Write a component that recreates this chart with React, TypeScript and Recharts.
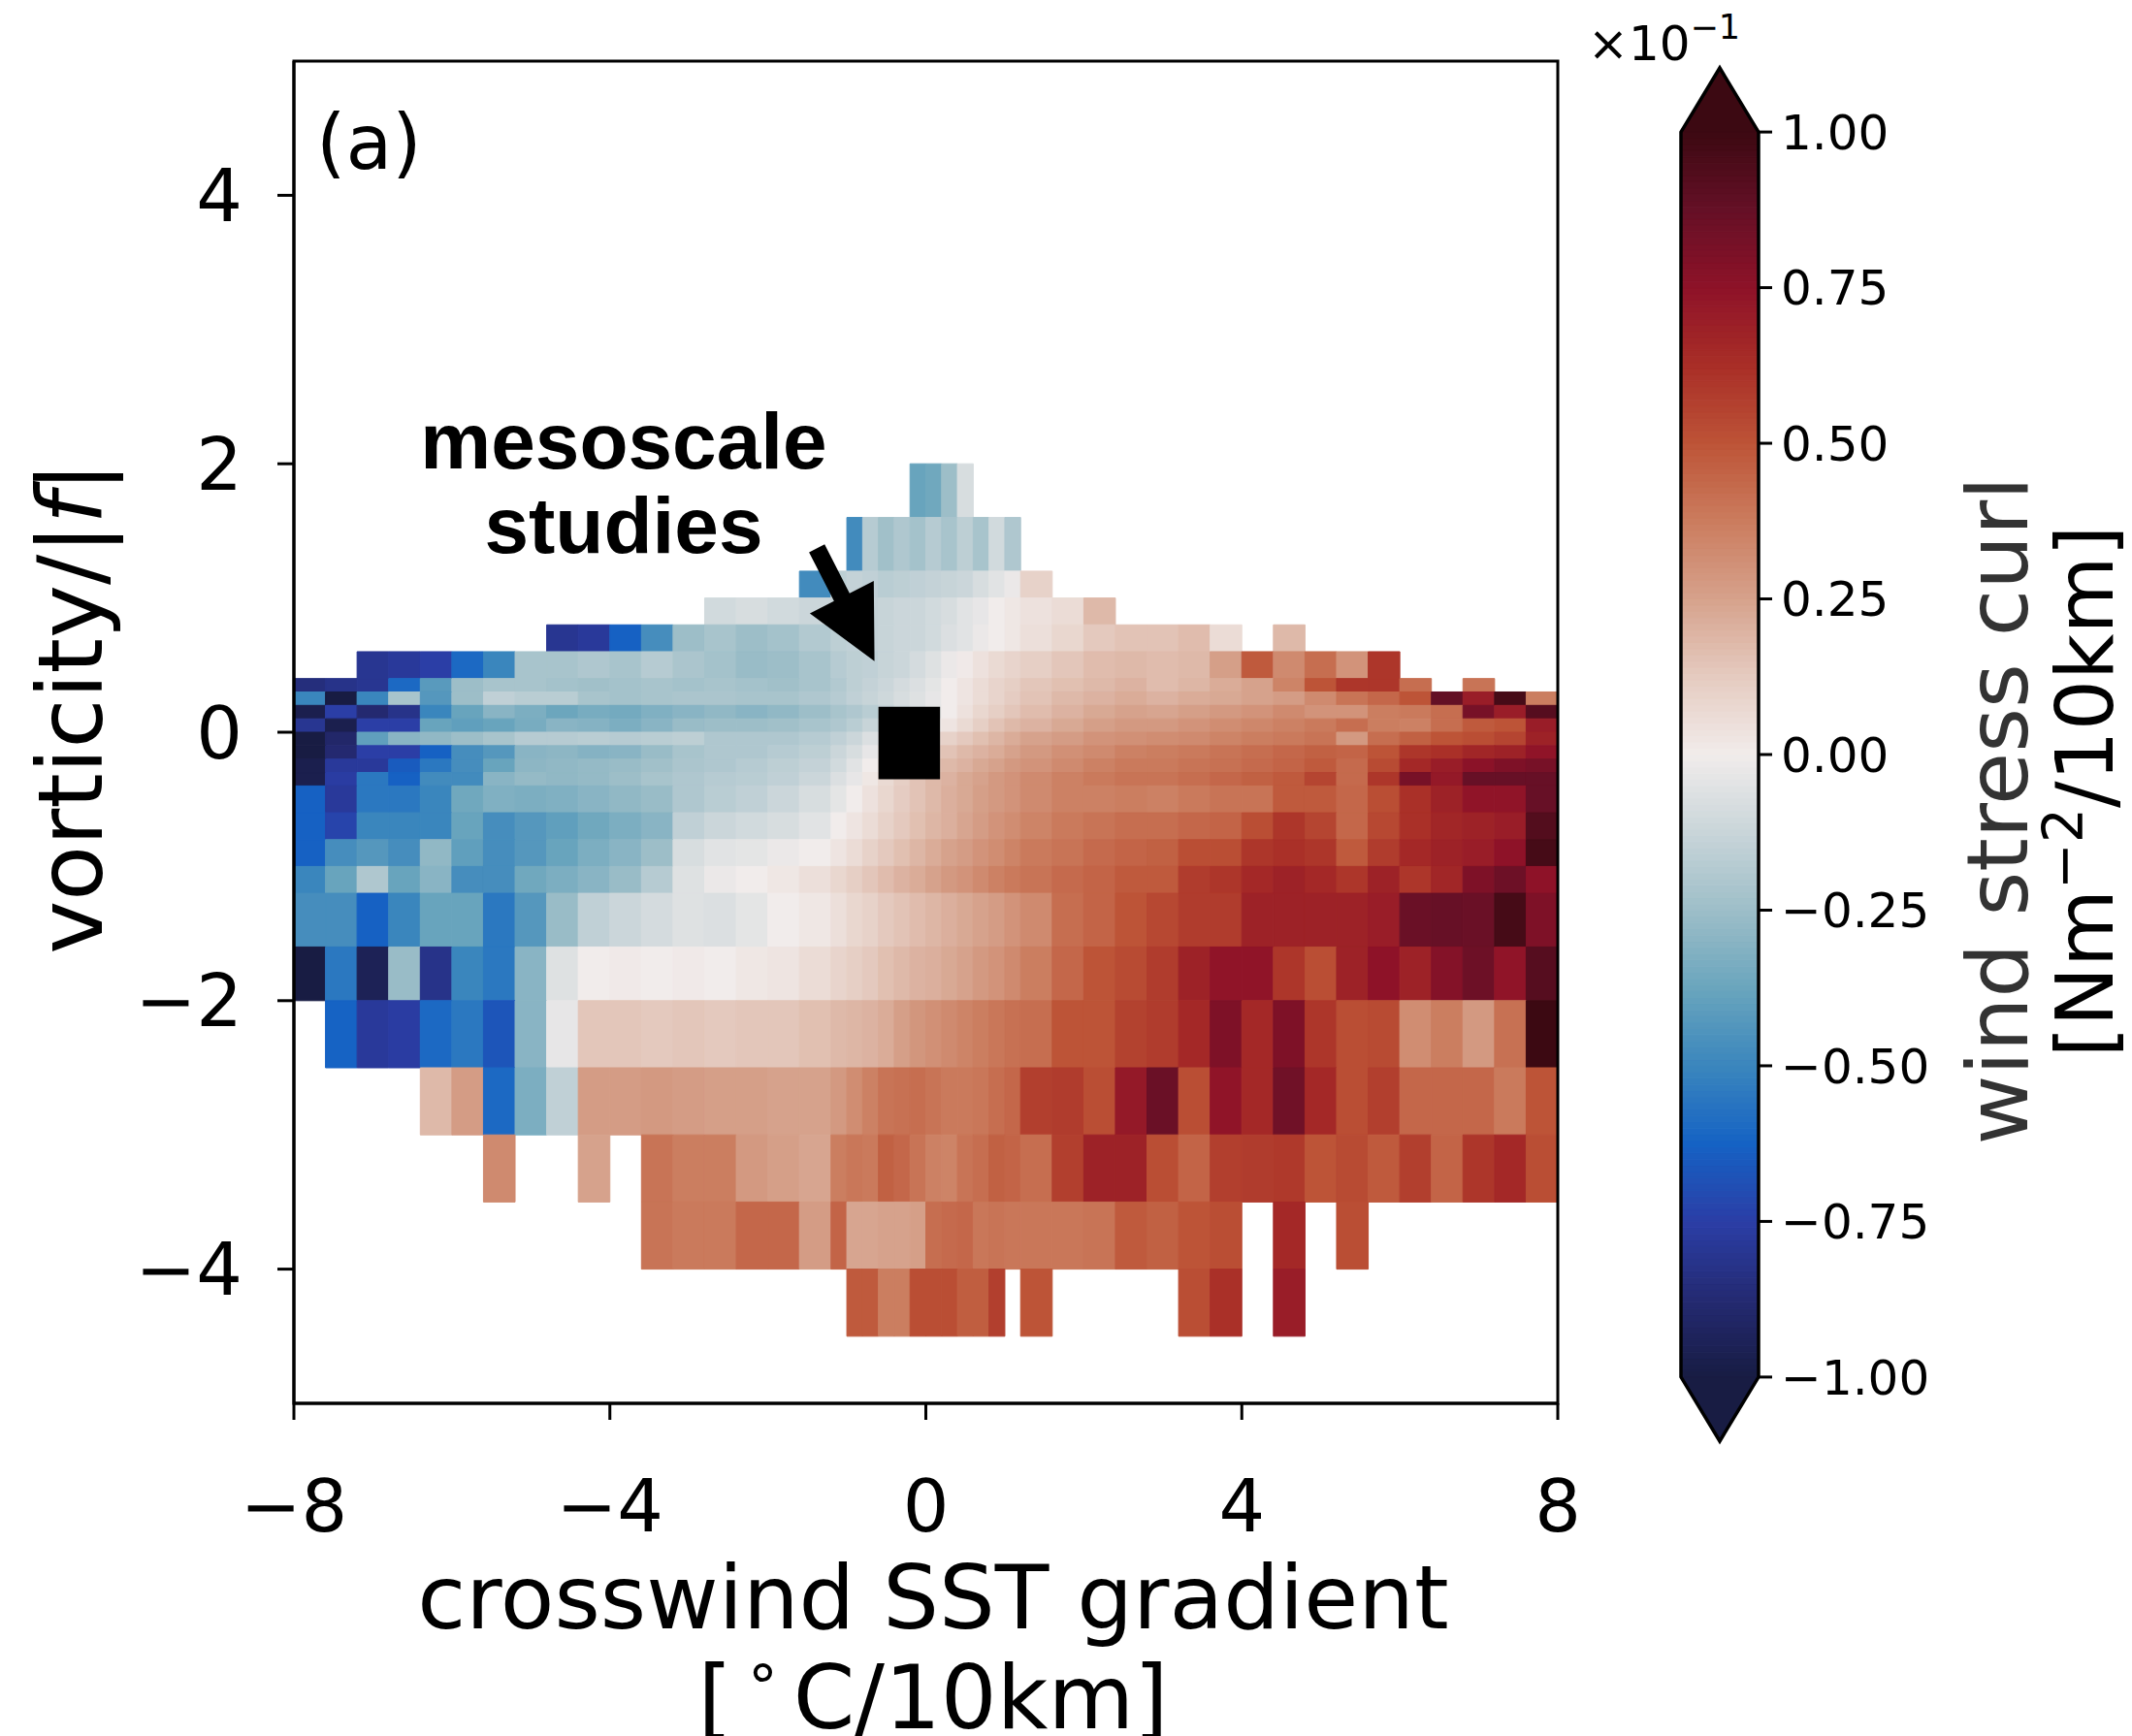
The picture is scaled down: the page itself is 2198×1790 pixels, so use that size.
import React from 'react';
import { ComposedChart, XAxis, YAxis, ReferenceArea, ReferenceLine } from 'recharts';

const N = null;

// bin edges (x: crosswind SST gradient, y: vorticity/|f|, top to bottom)
const xEdges = [-8, -7.6, -7.2, -6.8, -6.4, -6, -5.6, -5.2, -4.8, -4.4, -4, -3.6, -3.2, -2.8, -2.4, -2, -1.6, -1.2,
  -1, -0.8, -0.6, -0.4, -0.2, 0, 0.2, 0.4, 0.6, 0.8, 1, 1.2,
  1.6, 2, 2.4, 2.8, 3.2, 3.6, 4, 4.4, 4.8, 5.2, 5.6, 6, 6.4, 6.8, 7.2, 7.6, 8];
const yEdges = [2, 1.6, 1.2, 1, 0.8, 0.6, 0.4, 0.3, 0.2, 0.1, 0, -0.1, -0.2, -0.3, -0.4, -0.6, -0.8, -1, -1.2, -1.6, -2, -2.5, -3, -3.5, -4, -4.5];

// wind stress curl (x10^-1) per row, 46 columns each
const r0 = [N,N,N,N,N,N,N,N,N,N, N,N,N,N,N,N,N,N,N,N, N,N,-0.38,-0.36,-0.25,-0.08,N,N,N,N, N,N,N,N,N,N,N,N,N,N, N,N,N,N,N,N];
const r1 = [N,N,N,N,N,N,N,N,N,N, N,N,N,N,N,N,N,N,-0.48,-0.18, -0.24,-0.2,-0.23,-0.18,-0.22,-0.16,-0.22,-0.1,-0.2,N, N,N,N,N,N,N,N,N,N,N, N,N,N,N,N,N];
const r2 = [N,N,N,N,N,N,N,N,N,N, N,N,N,N,N,N,-0.48,-0.16,-0.14,-0.15, -0.17,-0.16,-0.15,-0.14,-0.13,-0.12,-0.08,-0.05,-0.02,0.1, N,N,N,N,N,N,N,N,N,N, N,N,N,N,N,N];
const r3 = [N,N,N,N,N,N,N,N,N,N, N,N,N,-0.1,-0.08,-0.1,-0.12,-0.13,-0.14,-0.14, -0.13,-0.12,-0.12,-0.1,-0.08,-0.05,-0.03,0,0.02,0.04, 0.06,0.18,N,N,N,N,N,N,N,N, N,N,N,N,N,N];
const r4 = [N,N,N,N,N,N,N,N,-0.8,-0.78, -0.63,-0.47,-0.25,-0.22,-0.25,-0.23,-0.19,-0.16,-0.15,-0.14, -0.13,-0.12,-0.12,-0.1,-0.07,-0.05,-0.02,0,0.02,0.05, 0.08,0.13,0.15,0.15,0.17,0.06,N,0.18,N,N, N,N,N,N,N,N];
const r5 = [N,N,-0.8,-0.78,-0.75,-0.6,-0.5,-0.22,-0.22,-0.2, -0.22,-0.18,-0.21,-0.23,-0.26,-0.25,-0.22,-0.18,-0.16,-0.15, -0.13,-0.12,-0.09,-0.06,-0.02,0.01,0.04,0.07,0.09,0.11, 0.14,0.17,0.18,0.17,0.18,0.26,0.48,0.33,0.42,0.3, 0.6,N,N,N,N,N];
const r6 = [-0.85,-0.82,-0.8,-0.6,-0.42,-0.25,-0.22,-0.22,-0.23,-0.24, -0.23,-0.22,-0.23,-0.22,-0.23,-0.24,-0.22,-0.19,-0.16,-0.14, -0.12,-0.09,-0.07,-0.04,0,0.03,0.06,0.09,0.11,0.14, 0.16,0.18,0.2,0.17,0.19,0.22,0.25,0.35,0.5,0.6, 0.6,0.42,N,0.4,N,N];
const r7 = [-0.5,-1,-0.5,-0.22,-0.43,-0.25,-0.15,-0.17,-0.17,-0.22, -0.23,-0.22,-0.21,-0.21,-0.22,-0.22,-0.2,-0.18,-0.15,-0.13, -0.11,-0.08,-0.06,-0.03,0,0.03,0.06,0.09,0.12,0.15, 0.18,0.2,0.22,0.2,0.22,0.23,0.25,0.27,0.33,0.4, 0.44,0.5,0.88,0.7,0.97,0.37];
const r8 = [-0.97,-0.75,-0.88,-0.82,-0.5,-0.38,-0.3,-0.33,-0.37,-0.34, -0.35,-0.32,-0.3,-0.28,-0.3,-0.28,-0.25,-0.22,-0.2,-0.17, -0.14,-0.1,-0.07,-0.04,0,0.04,0.08,0.11,0.14,0.17, 0.2,0.23,0.25,0.24,0.26,0.28,0.3,0.33,0.3,0.3, 0.37,0.38,0.42,0.82,0.7,0.92];
const r9 = [-0.8,-0.97,-0.75,-0.75,-0.38,-0.4,-0.38,-0.34,-0.3,-0.31, -0.33,-0.3,-0.26,-0.25,-0.25,-0.24,-0.22,-0.2,-0.17,-0.13, -0.1,-0.06,-0.03,0,0.03,0.07,0.11,0.15,0.18,0.2, 0.23,0.26,0.28,0.28,0.3,0.32,0.34,0.36,0.38,0.42, 0.37,0.36,0.42,0.48,0.5,0.7];
const r10 = [-1,-0.9,-0.4,-0.3,-0.28,-0.25,-0.22,-0.18,-0.18,-0.17, -0.18,-0.17,-0.16,-0.2,-0.2,-0.2,-0.18,-0.15,-0.12,-0.07, -0.03,0.02,0.05,0.08,0.1,0.13,0.16,0.19,0.22,0.25, 0.27,0.3,0.31,0.32,0.33,0.35,0.37,0.38,0.4,0.28, 0.42,0.46,0.5,0.52,0.55,0.68];
const r11 = [-1,-0.88,-0.75,-0.75,-0.63,-0.47,-0.43,-0.3,-0.29,-0.31, -0.3,-0.26,-0.22,-0.2,-0.2,-0.18,-0.16,-0.12,-0.08,-0.03, 0.02,0.06,0.1,0.13,0.15,0.18,0.2,0.22,0.25,0.28, 0.31,0.33,0.36,0.37,0.38,0.4,0.42,0.44,0.46,0.45, 0.5,0.6,0.62,0.66,0.68,0.74];
const r12 = [-0.97,-0.78,-0.78,-0.65,-0.55,-0.47,-0.38,-0.29,-0.28,-0.27, -0.26,-0.24,-0.21,-0.2,-0.18,-0.16,-0.14,-0.1,-0.05,0, 0.05,0.09,0.13,0.16,0.18,0.2,0.23,0.25,0.28,0.3, 0.33,0.36,0.38,0.38,0.4,0.41,0.43,0.45,0.48,0.43, 0.53,0.65,0.7,0.76,0.8,0.82];
const r13 = [-0.97,-0.76,-0.55,-0.63,-0.48,-0.48,-0.3,-0.27,-0.28,-0.27, -0.25,-0.22,-0.2,-0.18,-0.17,-0.15,-0.12,-0.07,-0.03,0.02, 0.07,0.11,0.15,0.18,0.2,0.23,0.25,0.28,0.3,0.33, 0.36,0.38,0.4,0.4,0.42,0.44,0.46,0.48,0.55,0.43, 0.6,0.82,0.72,0.87,0.87,0.87];
const r14 = [-0.63,-0.78,-0.55,-0.55,-0.5,-0.36,-0.32,-0.33,-0.32,-0.3, -0.28,-0.26,-0.2,-0.17,-0.15,-0.12,-0.08,-0.04,0,0.04, 0.08,0.12,0.15,0.18,0.21,0.23,0.26,0.28,0.3,0.33, 0.36,0.36,0.37,0.36,0.38,0.4,0.4,0.48,0.48,0.44, 0.52,0.62,0.68,0.74,0.74,0.87];
const r15 = [-0.63,-0.73,-0.5,-0.5,-0.5,-0.38,-0.47,-0.43,-0.4,-0.36, -0.33,-0.3,-0.15,-0.12,-0.1,-0.08,-0.05,0,0.03,0.06, 0.1,0.13,0.16,0.19,0.21,0.24,0.27,0.3,0.32,0.35, 0.38,0.4,0.42,0.42,0.44,0.45,0.52,0.6,0.55,0.44, 0.54,0.62,0.66,0.68,0.7,0.93];
const r16 = [-0.63,-0.47,-0.43,-0.47,-0.28,-0.4,-0.47,-0.43,-0.38,-0.33, -0.3,-0.25,-0.08,-0.05,-0.04,-0.02,0,0.03,0.06,0.1, 0.13,0.16,0.19,0.22,0.25,0.27,0.3,0.32,0.35,0.38, 0.4,0.43,0.45,0.46,0.52,0.52,0.6,0.62,0.6,0.48, 0.58,0.65,0.68,0.7,0.75,0.97];
const r17 = [-0.5,-0.38,-0.2,-0.38,-0.3,-0.47,-0.47,-0.36,-0.33,-0.3, -0.26,-0.18,-0.06,-0.02,0,0.02,0.05,0.08,0.11,0.14, 0.17,0.2,0.22,0.25,0.28,0.3,0.33,0.36,0.38,0.4, 0.43,0.45,0.48,0.48,0.58,0.6,0.65,0.68,0.65,0.6, 0.68,0.6,0.66,0.8,0.85,0.75];
const r18 = [-0.47,-0.47,-0.63,-0.5,-0.38,-0.38,-0.55,-0.43,-0.26,-0.15, -0.12,-0.09,-0.06,-0.07,-0.04,0,0.02,0.05,0.08,0.1, 0.13,0.15,0.17,0.19,0.21,0.23,0.25,0.27,0.3,0.33, 0.42,0.45,0.5,0.54,0.58,0.58,0.68,0.68,0.68,0.68, 0.7,0.86,0.87,0.86,0.97,0.8];
const r19 = [-1,-0.55,-0.95,-0.26,-0.82,-0.5,-0.55,-0.3,-0.06,0, 0.01,0,0.01,0,0.02,0.03,0.06,0.09,0.11,0.13, 0.16,0.18,0.2,0.21,0.23,0.25,0.28,0.3,0.33,0.37, 0.44,0.5,0.53,0.58,0.68,0.74,0.74,0.6,0.52,0.68, 0.75,0.68,0.78,0.85,0.74,0.92];
const r20 = [N,-0.62,-0.78,-0.76,-0.6,-0.55,-0.67,-0.3,-0.03,0.14, 0.14,0.13,0.14,0.13,0.14,0.14,0.16,0.18,0.19,0.2, 0.22,0.26,0.29,0.31,0.33,0.35,0.37,0.39,0.41,0.42, 0.5,0.5,0.56,0.58,0.65,0.8,0.65,0.8,0.6,0.52, 0.53,0.32,0.37,0.28,0.41,1];
const r21 = [N,N,N,N,0.18,0.27,-0.6,-0.33,-0.15,0.27, 0.27,0.28,0.27,0.26,0.26,0.25,0.25,0.28,0.32,0.36, 0.4,0.41,0.42,0.4,0.38,0.38,0.39,0.42,0.44,0.57, 0.58,0.52,0.72,0.86,0.52,0.74,0.65,0.84,0.65,0.52, 0.57,0.44,0.44,0.44,0.38,0.5];
const r22 = [N,N,N,N,N,N,0.33,N,N,0.25, N,0.4,0.37,0.37,0.28,0.26,0.24,0.37,0.39,0.38, 0.46,0.44,0.4,0.36,0.35,0.4,0.42,0.46,0.45,0.42, 0.57,0.68,0.68,0.52,0.45,0.57,0.58,0.59,0.5,0.53, 0.48,0.57,0.45,0.6,0.65,0.52];
const r23 = [N,N,N,N,N,N,N,N,N,N, N,0.4,0.38,0.38,0.44,0.44,0.27,0.45,0.24,0.24, 0.25,0.25,0.26,0.42,0.43,0.44,0.39,0.4,0.39,0.39, 0.39,0.4,0.48,0.46,0.5,0.52,N,0.65,N,0.52, N,N,N,N,N,N];
const r24 = [N,N,N,N,N,N,N,N,N,N, N,N,N,N,N,N,N,N,0.48,0.48, 0.37,0.37,0.52,0.52,0.52,0.47,0.47,0.57,N,0.5, N,N,N,N,0.52,0.62,N,0.7,N,N, N,N,N,N,N,N];

const rows = [r0, r1, r2, r3, r4, r5, r6, r7, r8, r9, r10, r11, r12, r13, r14, r15, r16, r17, r18, r19, r20, r21, r22, r23, r24];

const xTicks = [-8, -4, 0, 4, 8];
const yTicks = [-4, -2, 0, 2, 4];
const cbTicks = [-1, -0.75, -0.5, -0.25, 0, 0.25, 0.5, 0.75, 1];

// cmocean "balance"-like colormap on [-1, 1]
const colorStops: [number, string][] = [
  [-1.0, '#181c43'], [-0.875, '#242a72'], [-0.75, '#2b3ea6'], [-0.625, '#1562c4'],
  [-0.5, '#3a86bd'], [-0.375, '#6aa5bd'], [-0.25, '#9dbec8'], [-0.125, '#c9d5d9'],
  [0, '#f1eceb'], [0.125, '#e5cbc0'], [0.25, '#d6a28c'], [0.375, '#cb7c5e'],
  [0.5, '#bd5437'], [0.625, '#a92e27'], [0.75, '#8e1228'], [0.875, '#651026'], [1.0, '#3c0912'],
];

const mesoBox = { x1: -0.6, x2: 0.18, y1: -0.35, y2: 0.19 };
const arrowFrom = { x: -1.38, y: 1.37 };
const arrowTo = { x: -0.65, y: 0.53 };
const CB_EXT = 0.103;

function hex(c: string) {
  return [parseInt(c.slice(1, 3), 16), parseInt(c.slice(3, 5), 16), parseInt(c.slice(5, 7), 16)];
}
function cmap(v: number): string {
  const t = Math.max(-1, Math.min(1, v));
  for (let i = 0; i < colorStops.length - 1; i++) {
    const [v0, c0] = colorStops[i];
    const [v1, c1] = colorStops[i + 1];
    if (t <= v1) {
      const f = (t - v0) / (v1 - v0);
      const a = hex(c0), b = hex(c1);
      const m = a.map((q, k) => Math.round(q + (b[k] - q) * f));
      return `rgb(${m[0]},${m[1]},${m[2]})`;
    }
  }
  return colorStops[colorStops.length - 1][1];
}

const cells: { x1: number; x2: number; y1: number; y2: number; v: number }[] = [];
rows.forEach((row, r) => {
  row.forEach((v, c) => {
    if (v !== null && v !== undefined) {
      cells.push({ x1: xEdges[c], x2: xEdges[c + 1], y1: yEdges[r + 1], y2: yEdges[r], v: v as number });
    }
  });
});

const CB_N = 200;
const cbStrips = Array.from({ length: CB_N }, (_, i) => {
  const lo = -1 + (2 * i) / CB_N;
  const hi = -1 + (2 * (i + 1)) / CB_N;
  return { lo, hi, c: cmap((lo + hi) / 2) };
});

const minus = (v: number, digits?: number) =>
  (v < 0 ? '\u2212' : '') + (digits !== undefined ? Math.abs(v).toFixed(digits) : String(Math.abs(v)));

const FONT = 'DejaVu Sans';

const ArrowShape = (props: any) => {
  const { x1, y1, x2, y2 } = props;
  const dx = x2 - x1, dy = y2 - y1;
  const len = Math.sqrt(dx * dx + dy * dy);
  const ux = dx / len, uy = dy / len;
  const px = -uy, py = ux;
  const headL = 74, headW = 37, shaftW = 9;
  const bx = x2 - ux * headL, by = y2 - uy * headL;
  const pts = [
    [x1 + px * shaftW, y1 + py * shaftW],
    [bx + px * shaftW, by + py * shaftW],
    [bx + px * headW, by + py * headW],
    [x2, y2],
    [bx - px * headW, by - py * headW],
    [bx - px * shaftW, by - py * shaftW],
    [x1 - px * shaftW, y1 - py * shaftW],
  ];
  return <polygon points={pts.map((p) => p.join(',')).join(' ')} fill="#000" />;
};

const TriUp = (props: any) => {
  const { x, y, width, height, fill } = props;
  return <polygon points={`${x},${y + height} ${x + width / 2},${y} ${x + width},${y + height}`} fill={fill} stroke={fill} strokeWidth={1} />;
};
const TriDown = (props: any) => {
  const { x, y, width, height, fill } = props;
  return <polygon points={`${x},${y} ${x + width},${y} ${x + width / 2},${y + height}`} fill={fill} stroke={fill} strokeWidth={1} />;
};
const CbOutline = (props: any) => {
  const { x, y, width, height } = props;
  const th = (height * CB_EXT) / (2 * (1 + CB_EXT));
  const d = `M${x},${y + th} L${x + width / 2},${y} L${x + width},${y + th} L${x + width},${y + height - th} L${x + width / 2},${y + height} L${x},${y + height - th} Z`;
  return <path d={d} fill="none" stroke="#000" strokeWidth={3.5} strokeLinejoin="miter" />;
};

const axisStyle = { stroke: '#000', strokeWidth: 3 };

export default function App() {
  return (
    <div style={{ position: 'absolute', left: 0, top: 0, width: 2198, height: 1790, background: '#fff', overflow: 'hidden' }}>
      <div style={{ position: 'absolute', left: 0, top: 0 }}>
        <ComposedChart width={2198} height={1790} margin={{ top: 63, right: 592, bottom: 0, left: 0 }} data={[{ x: -8 }, { x: 8 }]}>
          <XAxis
            type="number"
            dataKey="x"
            domain={[-8, 8]}
            ticks={xTicks}
            interval={0}
            allowDataOverflow
            height={343}
            tickSize={17}
            tickMargin={62}
            axisLine={axisStyle}
            tickLine={axisStyle}
            tickFormatter={(v: number) => minus(v)}
            tick={{ fontSize: 75, fill: '#000', fontFamily: FONT }}
          />
          <YAxis
            type="number"
            domain={[-5, 5]}
            ticks={yTicks}
            interval={0}
            allowDataOverflow
            width={303}
            tickSize={17}
            tickMargin={36}
            axisLine={axisStyle}
            tickLine={axisStyle}
            tickFormatter={(v: number) => minus(v)}
            tick={{ fontSize: 75, fill: '#000', fontFamily: FONT }}
          />
          {cells.map((c, i) => (
            <ReferenceArea
              key={`c${i}`}
              x1={c.x1}
              x2={c.x2}
              y1={c.y1}
              y2={c.y2}
              fill={cmap(c.v)}
              fillOpacity={1}
              stroke={cmap(c.v)}
              strokeWidth={1}
              ifOverflow="visible"
            />
          ))}
          <ReferenceArea x1={mesoBox.x1} x2={mesoBox.x2} y1={mesoBox.y1} y2={mesoBox.y2} fill="#000" fillOpacity={1} ifOverflow="visible" />
          <ReferenceLine segment={[arrowFrom, arrowTo]} shape={ArrowShape} ifOverflow="visible" />
          <ReferenceArea x1={-8} x2={8} y1={-5} y2={5} fill="none" fillOpacity={0} stroke="#000" strokeWidth={3} ifOverflow="visible" />
        </ComposedChart>
      </div>

      <div style={{ position: 'absolute', left: 0, top: 0 }}>
        <ComposedChart width={2198} height={1790} margin={{ top: 70, right: 85, bottom: 304, left: 1733 }} data={[{ x: 0 }, { x: 1 }]}>
          <XAxis type="number" dataKey="x" domain={[0, 1]} hide height={0} />
          <YAxis
            type="number"
            orientation="right"
            domain={[-1 - CB_EXT, 1 + CB_EXT]}
            ticks={cbTicks}
            interval={0}
            allowDataOverflow
            width={300}
            tickSize={14}
            tickMargin={9}
            axisLine={false}
            tickLine={axisStyle}
            tickFormatter={(v: number) => minus(v, 2)}
            tick={{ fontSize: 50, fill: '#000', fontFamily: FONT }}
          />
          {cbStrips.map((s, i) => (
            <ReferenceArea key={`s${i}`} x1={0} x2={1} y1={s.lo} y2={s.hi} fill={s.c} fillOpacity={1} stroke={s.c} strokeWidth={1} ifOverflow="visible" />
          ))}
          <ReferenceArea x1={0} x2={1} y1={1} y2={1 + CB_EXT} fill={colorStops[colorStops.length - 1][1]} fillOpacity={1} shape={TriUp} ifOverflow="visible" />
          <ReferenceArea x1={0} x2={1} y1={-1 - CB_EXT} y2={-1} fill={colorStops[0][1]} fillOpacity={1} shape={TriDown} ifOverflow="visible" />
          <ReferenceArea x1={0} x2={1} y1={-1 - CB_EXT} y2={1 + CB_EXT} fill="none" shape={CbOutline} ifOverflow="visible" />
        </ComposedChart>
      </div>

      <svg width={2198} height={1790} style={{ position: 'absolute', left: 0, top: 0, pointerEvents: 'none' }}>
        <text x={326} y={174} fontSize={78} fontFamily={FONT} fill="#000">(a)</text>
        <text x={643} y={483} fontSize={82} fontFamily="Liberation Sans" fontWeight="bold" textAnchor="middle" fill="#000">mesoscale</text>
        <text x={643} y={570} fontSize={82} fontFamily="Liberation Sans" fontWeight="bold" textAnchor="middle" fill="#000">studies</text>
        <text x={962} y={1679} fontSize={91} fontFamily={FONT} textAnchor="middle" fill="#000">crosswind SST gradient</text>
        <text x={962} y={1782} fontSize={91} fontFamily={FONT} textAnchor="middle" fill="#000">
          [<tspan dx={12} dy={-38} fontSize={62}>{'\u2218'}</tspan>
          <tspan dx={12} dy={38}>C/10km]</tspan>
        </text>
        <text x={105} y={730} transform="rotate(-90 105 730)" fontSize={93} fontFamily={FONT} textAnchor="middle" fill="#000">
          vorticity/|<tspan fontStyle="italic">f</tspan>|
        </text>
        <text x={1637} y={62} fontSize={50} fontFamily={FONT} fill="#000">
          {'\u00d710'}<tspan dy={-22} fontSize={35}>{'\u22121'}</tspan>
        </text>
        <text x={2090} y={836} transform="rotate(-90 2090 836)" fontSize={88} fontFamily={FONT} textAnchor="middle" fill="#333">wind stress curl</text>
        <text x={2178} y={816} transform="rotate(-90 2178 816)" fontSize={82} fontFamily={FONT} textAnchor="middle" fill="#000">
          [Nm<tspan dy={-31} fontSize={57}>{'\u22122'}</tspan><tspan dy={31}>/10km]</tspan>
        </text>
      </svg>
    </div>
  );
}
